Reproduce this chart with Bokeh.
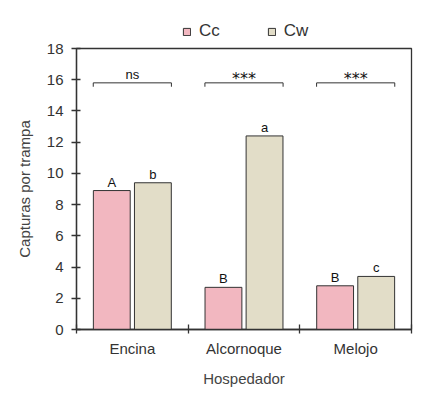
from bokeh.plotting import figure
from bokeh.layouts import column
from bokeh.models import (ColumnDataSource, FixedTicker, Legend, LegendItem, Range1d)
from bokeh.core.properties import value
from bokeh.embed import file_html
from bokeh.resources import INLINE

# Data
hosts = ["Encina", "Alcornoque", "Melojo"]
series = ["Cc", "Cw"]
cc_values = [8.9, 2.7, 2.8]
cw_values = [9.4, 12.4, 3.4]
cc_letters = ["A", "B", "B"]
cw_letters = ["b", "a", "c"]
sig_labels = ["ns", "***", "***"]
bracket_level = 15.8
bracket_drop = 0.25

FONT = "Liberation Sans"
PINK = "#F2B7C0"
BEIGE = "#E2DDC8"
EDGE = "#333333"
COLORS = [PINK, BEIGE]

centers = [i + 0.5 for i in range(len(hosts))]
off = 0.184
bw = 0.33

# ---- main chart ----
p = figure(width=436, height=361, output_backend="svg", toolbar_location=None,
           x_range=Range1d(0, 3), y_range=Range1d(0, 18))
p.min_border_left = 76
p.min_border_right = 25
p.min_border_top = 7
p.min_border_bottom = 73
p.outline_line_color = EDGE
p.outline_line_width = 1.3
p.grid.visible = False

src_cc = ColumnDataSource(dict(x=[c - off for c in centers], top=cc_values, lab=cc_letters))
src_cw = ColumnDataSource(dict(x=[c + off for c in centers], top=cw_values, lab=cw_letters))

for src, col in zip((src_cc, src_cw), COLORS):
    p.vbar(x="x", top="top", width=bw, source=src, fill_color=col,
           line_color=EDGE, line_width=1)
    p.text(x="x", y="top", text="lab", source=src, text_align="center",
           text_baseline="bottom", y_offset=-1, text_font=value(FONT),
           text_font_size="13px", text_color="#111111")

# significance brackets
bx, by = [], []
half = 0.35
for c in centers:
    bx.append([c - half, c - half, c + half, c + half])
    by.append([bracket_level - bracket_drop, bracket_level, bracket_level,
               bracket_level - bracket_drop])
p.multi_line(xs=bx, ys=by, line_color=EDGE, line_width=1)

ns_idx = [i for i, s in enumerate(sig_labels) if s == "ns"]
st_idx = [i for i, s in enumerate(sig_labels) if s != "ns"]
p.text(x=[centers[i] for i in ns_idx], y=[bracket_level] * len(ns_idx),
       text=[sig_labels[i] for i in ns_idx], text_align="center",
       text_baseline="bottom", y_offset=-1, text_font=value(FONT),
       text_font_size="13px", text_color="#111111")
p.text(x=[centers[i] for i in st_idx], y=[bracket_level] * len(st_idx),
       text=[sig_labels[i] for i in st_idx], text_align="center",
       text_baseline="alphabetic", y_offset=-4, text_font=value("DejaVu Sans"),
       text_font_size="16px", text_color="#111111")

# axes
xa = p.xaxis[0]
xa.ticker = FixedTicker(ticks=centers, minor_ticks=[0, 1, 2, 3])
xa.major_label_overrides = {c: h for c, h in zip(centers, hosts)}
xa.major_tick_in = 0
xa.major_tick_out = 0
xa.minor_tick_in = 5
xa.minor_tick_out = 4
xa.minor_tick_line_color = EDGE
xa.minor_tick_line_width = 1.3
xa.major_label_standoff = 6
xa.axis_label = "Hospedador"
xa.axis_label_standoff = 10

ya = p.yaxis[0]
ya.ticker = FixedTicker(ticks=list(range(0, 19, 2)))
ya.major_tick_in = 4
ya.major_tick_out = 5
ya.minor_tick_line_color = None
ya.major_tick_line_color = EDGE
ya.major_tick_line_width = 1.3
ya.major_label_standoff = 8
ya.axis_label = "Capturas por trampa"
ya.axis_label_standoff = 11

for ax in (xa, ya):
    ax.axis_line_color = EDGE
    ax.axis_line_width = 1.3
    ax.major_label_text_font = FONT
    ax.major_label_text_font_size = "15px"
    ax.major_label_text_color = "#333333"
    ax.axis_label_text_font = FONT
    ax.axis_label_text_font_size = "15px"
    ax.axis_label_text_font_style = "normal"
    ax.axis_label_text_color = "#444444"

# ---- legend strip above the chart (its frame is aligned with the chart's) ----
lg = figure(width=436, height=41, output_backend="svg", toolbar_location=None,
            x_range=Range1d(0, 1), y_range=Range1d(0, 1),
            x_axis_location=None, y_axis_location=None)
lg.grid.visible = False
lg.outline_line_color = None
lg.min_border = 0
items = []
for name, col in zip(series, COLORS):
    # hidden swatch proxies: only their legend entries are drawn
    r = lg.vbar(x=[0.5], top=[1], width=0.1, fill_color=col, line_color=EDGE,
                line_width=1, visible=False)
    items.append(LegendItem(label=name, renderers=[r]))
legend = Legend(items=items, orientation="horizontal", location=(106, 0),
                glyph_width=9, glyph_height=9, spacing=47, label_standoff=8,
                label_text_font=FONT, label_text_font_size="17px",
                label_text_color="#333333", border_line_color=None,
                background_fill_alpha=0, padding=2, margin=0,
                inactive_fill_alpha=0, click_policy="none")
lg.add_layout(legend)

layout = column(lg, p, spacing=0)
open("out.html", "w").write(file_html(layout, INLINE))
